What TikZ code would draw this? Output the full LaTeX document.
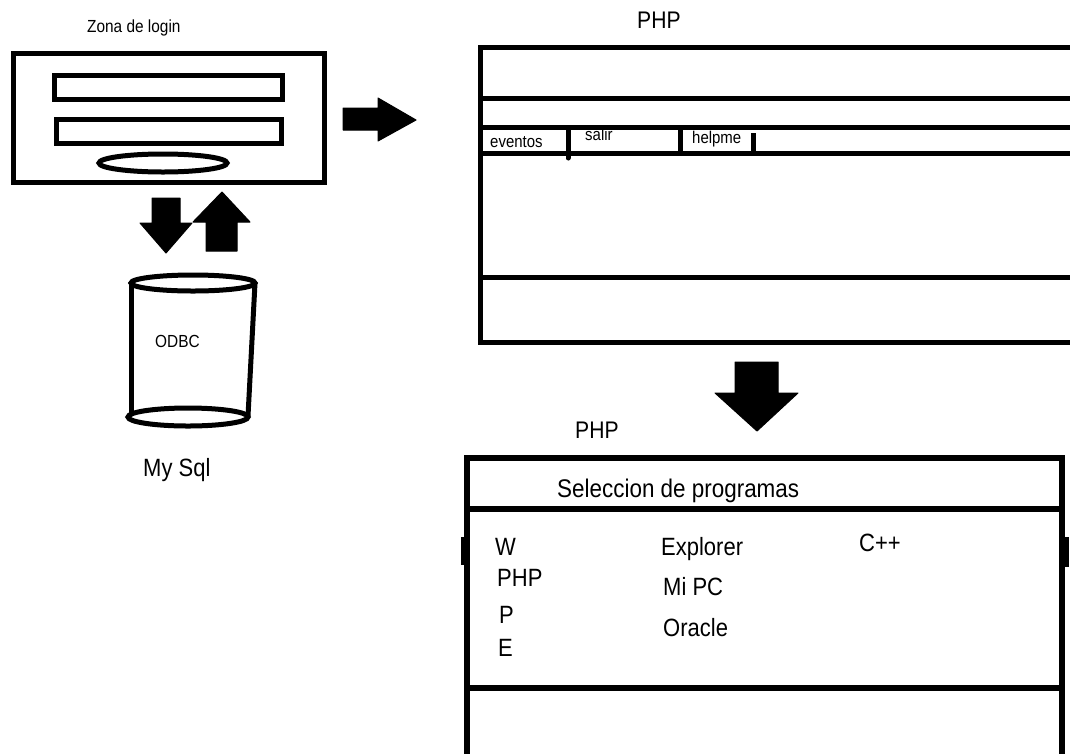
\documentclass[tikz,border=0pt]{standalone}
\usepackage{fontspec}
\setmainfont{Liberation Sans}
\usetikzlibrary{positioning}

\tikzset{
  heavy/.style={line width=5pt},
  blk/.style={fill=black, draw=black, line width=1pt, line join=round},
  lbl/.style={inner sep=0pt, anchor=base west},
}
% texto algo estrecho, como en paint
\newcommand{\fsz}[2]{\scalebox{0.88}[1]{\fontsize{#1}{#1}\selectfont #2}}

\begin{document}
\begin{tikzpicture}[x=1pt, y=-1pt]
    \clip (0,0) rectangle (1070,753);
    \fill[white] (0,0) rectangle (1070,753);

    % zona de login
    \node[lbl] (zona) at (87,32) {\fsz{17.5}{Zona de login}};
    \draw[heavy] (13,53) rectangle (324,182);
    \draw[heavy] (54,75) rectangle (282,99);
    \draw[heavy] (56,119) rectangle (281,143);
    \draw[heavy] (163,163) ellipse (64 and 9);

    % flechas
    \fill[blk] (343,108) -- (378,108) -- (378,98) -- (416,120) -- (378,141) -- (378,130) -- (343,130) -- cycle;
    \fill[blk] (152,198) -- (180,198) -- (180,223) -- (192,223) -- (166,253) -- (140,223) -- (152,223) -- cycle;
    \fill[blk] (206,251) -- (237,251) -- (237,222) -- (250,222) -- (222,192) -- (193,222) -- (206,222) -- cycle;
    \fill[blk] (735,362) -- (778,362) -- (778,393) -- (798,393) -- (757,431) -- (715,393) -- (735,393) -- cycle;

    % base de datos
    \draw[heavy] (193,283) ellipse (62 and 8);
    \draw[heavy] (131,283) -- (131,416);
    \draw[heavy] (255,283) -- (248,416);
    \draw[heavy] (188,417) ellipse (60 and 9);
    \node[lbl] (odbc) at (155,347) {\fsz{17.5}{ODBC}};
    \node[lbl] (mysql) at (143,476) {\fsz{25}{My Sql}};

    % primera pagina
    \node[lbl] (phpA) at (637,28) {\fsz{24}{PHP}};
    \draw[heavy] (1080,47) -- (480,47) -- (480,342) -- (1080,342);
    \foreach \y in {98,127,153,277} {
        \draw[heavy] (480,\y) -- (1080,\y);
    }
    \draw[heavy, line cap=round] (568,128) -- (568,158);
    \draw[heavy] (680,128) -- (680,153);
    \draw[heavy] (753,133) -- (753,155);
    \node[lbl] (eventos) at (490,147) {\fsz{17}{eventos}};
    \node[lbl] (salir) at (585,140) {\fsz{17}{salir}};
    \node[lbl] (helpme) at (692,143) {\fsz{17}{helpme}};

    % segunda pagina
    \node[lbl] (phpB) at (575,438) {\fsz{24}{PHP}};
    \draw[line width=6pt] (467,765) -- (467,458) -- (1062,458) -- (1062,765);
    \foreach \y in {509,688} {
        \draw[line width=6pt] (467,\y) -- (1062,\y);
    }
    \draw[line width=8pt] (465,537) -- (465,565);
    \draw[line width=8pt] (1065,537) -- (1065,567);
    \node[lbl] (selec) at (557,497) {\fsz{25.5}{Seleccion de programas}};
    \node[lbl] (w) at (495,555) {\fsz{25}{W}};
    \node[lbl] (phpC) at (497,586) {\fsz{25}{PHP}};
    \node[lbl] (p) at (499,623) {\fsz{25}{P}};
    \node[lbl] (e) at (498,656) {\fsz{25}{E}};
    \node[lbl] (explorer) at (661,555) {\fsz{25}{Explorer}};
    \node[lbl] (mipc) at (663,595) {\fsz{25}{Mi PC}};
    \node[lbl] (oracle) at (663,636) {\fsz{25}{Oracle}};
    \node[lbl] (cpp) at (859,551) {\fsz{25}{C++}};

\end{tikzpicture}
\end{document}
